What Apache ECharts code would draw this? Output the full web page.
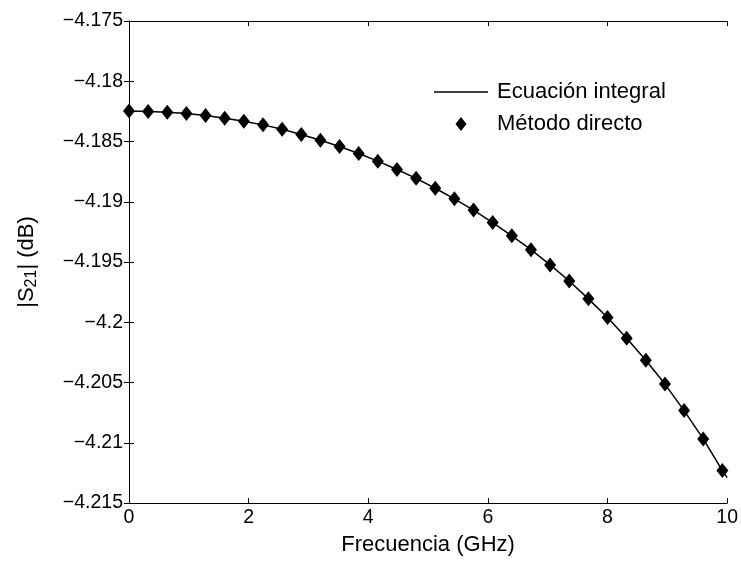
<!DOCTYPE html>
<html lang="es">
<head>
    <meta charset="UTF-8">
    <title>S21</title>
    <style>
        html, body { margin: 0; padding: 0; background: #fff; }
        #chart { width: 741px; height: 561px; }
    </style>
</head>
<body>
<div id="chart"></div>
<script src="https://cdn.jsdelivr.net/npm/echarts@6/dist/echarts.min.js"></script>
<script>
    // frecuencias de los puntos (GHz)
    var freq = [0, 0.32, 0.64, 0.96, 1.28, 1.6, 1.92, 2.24, 2.56, 2.88, 3.2, 3.52, 3.84, 4.16, 4.48, 4.8,
        5.12, 5.44, 5.76, 6.08, 6.4, 6.72, 7.04, 7.36, 7.68, 8.0, 8.32, 8.64, 8.96, 9.28, 9.6, 9.92];
    // metodo directo |S21| (dB)
    var directo = [-4.18247, -4.18252, -4.18258, -4.18268, -4.18285, -4.18307, -4.18332, -4.18362, -4.18399, -4.18442,
        -4.18490, -4.18541, -4.18600, -4.18663, -4.18732, -4.18806, -4.18888, -4.18976, -4.19069, -4.19173,
        -4.19283, -4.19398, -4.19524, -4.19658, -4.19806, -4.19960, -4.20133, -4.20316, -4.20513, -4.20733,
        -4.20968, -4.21231];
    // ecuacion integral: misma curva, llega hasta 10 GHz
    var integralFreq = freq.concat([10]);
    var integral = directo.concat([-4.21290]);

    var xTicks = [0, 2, 4, 6, 8, 10];
    var yMin = -4.215, yMax = -4.175, yStep = 0.005;

    var minus = function (v) {
        return String(v).replace('-', '\u2212');
    };

    var font = 'Liberation Sans, Arial, Helvetica, sans-serif';

    var lineData = integralFreq.map(function (f, i) { return [f, integral[i]]; });
    var dotData = freq.map(function (f, i) { return [f, directo[i]]; });

    var diamond = 'path://M0,-7L5.5,0L0,7L-5.5,0Z';
    var dash = 'path://M0,0L54,0L54,1.5L0,1.5Z';

    var baseX = {
        type: 'value',
        min: xTicks[0],
        max: xTicks[xTicks.length - 1],
        interval: 2,
        splitLine: {show: false},
        axisLine: {show: true, lineStyle: {color: '#000', width: 1}},
        axisTick: {show: true, inside: true, length: 5, lineStyle: {color: '#000'}}
    };
    var baseY = {
        type: 'value',
        min: yMin,
        max: yMax,
        interval: yStep,
        scale: true,
        splitLine: {show: false},
        axisLine: {show: true, lineStyle: {color: '#000', width: 1}},
        axisTick: {show: true, inside: true, length: 5, lineStyle: {color: '#000'}}
    };

    var option = {
        animation: false,
        backgroundColor: '#fff',
        textStyle: {fontFamily: font},
        grid: {left: 129, top: 21, width: 602, height: 491},
        legend: {
            orient: 'vertical',
            left: 429,
            top: 76,
            itemWidth: 54,
            itemHeight: 14,
            itemGap: 10,
            symbolKeepAspect: true,
            textStyle: {fontFamily: font, fontSize: 22, color: '#000', lineHeight: 22, padding: [0, 0, 0, 4]},
            data: [
                {name: 'Ecuación integral', icon: dash, itemStyle: {color: '#000'}},
                {name: 'Método directo', icon: diamond, itemStyle: {color: '#000'}}
            ]
        },
        xAxis: [
            Object.assign({}, baseX, {
                position: 'bottom',
                name: 'Frecuencia (GHz)',
                nameLocation: 'middle',
                nameGap: 31,
                nameTextStyle: {fontFamily: font, fontSize: 22, color: '#000'},
                axisLabel: {show: true, margin: 5, fontFamily: font, fontSize: 19.5, color: '#000'}
            }),
            Object.assign({}, baseX, {position: 'top', axisLabel: {show: false}})
        ],
        yAxis: [
            Object.assign({}, baseY, {
                position: 'left',
                name: '|S{sub|21}| (dB)',
                nameLocation: 'middle',
                nameGap: 89,
                nameRotate: 90,
                nameTextStyle: {
                    fontFamily: font, fontSize: 22, color: '#000', lineHeight: 26,
                    rich: {
                        sub: {fontFamily: font, fontSize: 16, color: '#000', verticalAlign: 'bottom', lineHeight: 26, padding: [9, 0, 0, 0]}
                    }
                },
                axisLabel: {
                    show: true, margin: 6, fontFamily: font, fontSize: 19.5, color: '#000',
                    formatter: function (v) { return minus(+v.toFixed(3)); }
                }
            }),
            Object.assign({}, baseY, {position: 'right', axisLabel: {show: false}})
        ],
        series: [
            {
                name: 'Ecuación integral',
                type: 'line',
                data: lineData,
                showSymbol: false,
                symbol: 'none',
                lineStyle: {color: '#000', width: 1.5},
                itemStyle: {color: '#000'},
                z: 2
            },
            {
                name: 'Método directo',
                type: 'scatter',
                data: dotData,
                symbol: diamond,
                symbolSize: [12, 15],
                itemStyle: {color: '#000', opacity: 1},
                z: 3
            }
        ]
    };

    var myChart = echarts.init(document.getElementById('chart'));
    myChart.setOption(option);
</script>
</body>
</html>
